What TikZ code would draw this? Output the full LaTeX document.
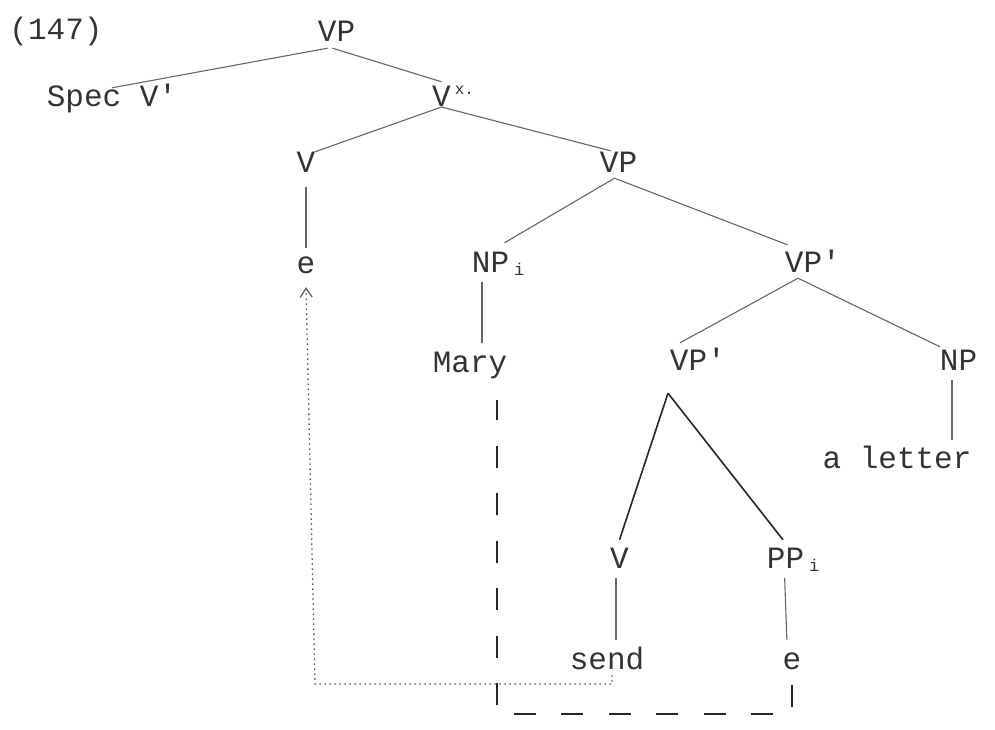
\documentclass[tikz,border=0pt]{standalone}
\usepackage{fontspec}
\newfontfamily\dotmatrix{Liberation Mono}
\usetikzlibrary{arrows.meta}
% small raised / lowered marks that do not widen the label
\newcommand\subidx[1]{\rlap{\hspace{5pt}\raisebox{-3pt}{\fontsize{17}{17}\selectfont #1}}}
\newcommand\supidx[1]{\rlap{\hspace{4pt}\raisebox{12pt}{\fontsize{16}{16}\selectfont #1}}}
\begin{document}
\begin{tikzpicture}[x=1pt,y=-1pt,
  lbl/.style={font=\dotmatrix\fontsize{31}{31}\selectfont, text=black!80,
    anchor=base, inner xsep=2pt, inner ysep=6pt, text height=19pt, text depth=0pt},
  branch/.style={draw=black!60, line width=1.1pt},
  heavy/.style={draw=black!85, line width=1.6pt},
  trace/.style={draw=black!65, line width=1.3pt, dash pattern=on 1.5pt off 3.5pt},
  chain/.style={draw=black!85, line width=1.8pt, dash pattern=on 22pt off 25.5pt},
]
\useasboundingbox (0,0) rectangle (995,730);
\fill[white] (0,0) rectangle (995,730);

% labels
\node[lbl] (ex)   at (56,40)    {(147)};
\node[lbl] (vp0)  at (336.5,42) {VP};
\node[lbl] (spec) at (112,107)  {Spec V'};
\node[lbl] (vbar) at (441.5,107){V\supidx{x.}};
\node[lbl] (v0)   at (306,173)  {V};
\node[lbl] (vp1)  at (618.5,172){VP};
\node[lbl] (e0)   at (306,273)  {e};
\node[lbl] (npi)  at (490.5,272){NP\subidx{i}};
\node[lbl] (vp2)  at (803.5,272){VP\rlap{'}};
\node[lbl] (mary) at (470,372)  {Mary};
\node[lbl] (vp3)  at (688.5,370){VP\rlap{'}};
\node[lbl] (np)   at (958.5,370){NP};
\node[lbl] (obj)  at (897,468)  {a letter};
\node[lbl] (v1)   at (619.5,568){V};
\node[lbl] (ppi)  at (785.5,568){PP\subidx{i}};
\node[lbl] (send) at (607,669)  {send};
\node[lbl] (e1)   at (792,669)  {e};

% branches
\draw[branch] ([xshift=-9pt]vp0.south) -- ([yshift=-6pt]spec.north);
\draw[branch] ([xshift=-4pt]vp0.south) -- (vbar.north);
\draw[branch] (vbar.base) -- ([xshift=9pt,yshift=-4pt]v0.north);
\draw[branch] (vbar.base) -- ([xshift=-8pt,yshift=-4pt]vp1.north);
\draw[branch] ([xshift=-4pt]vp1.south) -- ([xshift=14pt,yshift=4pt]npi.north);
\draw[branch] ([xshift=-4pt]vp1.south) -- ([xshift=-16pt,yshift=2pt]vp2.north);
\draw[branch, shorten <=8pt] (v0.south) -- (e0.north);
\draw[branch, shorten <=4pt, shorten >=4pt] ([xshift=-8.5pt]npi.south) -- ([xshift=12pt]mary.north);
\draw[branch] ([xshift=-5.5pt]vp2.south) -- ([xshift=-8.5pt,yshift=2pt]vp3.north);
\draw[branch] ([xshift=-5.5pt]vp2.south) -- ([xshift=-18.5pt,yshift=-2pt]np.north);
\draw[branch, shorten <=4pt, shorten >=3pt] ([xshift=-6.5pt]np.south) -- ([xshift=55pt]obj.north);
\draw[heavy] ([xshift=-20.5pt,yshift=-17pt]vp3.south) -- ([yshift=3pt]v1.north);
\draw[heavy] ([xshift=-20.5pt,yshift=-17pt]vp3.south) -- ([xshift=-2.5pt,yshift=3pt]ppi.north);
\draw[branch, shorten <=4pt, shorten >=4pt] ([xshift=-3.5pt]v1.south) -- ([xshift=9pt]send.north);
\draw[branch, shorten <=4pt, shorten >=4pt] ([xshift=-1pt]ppi.south) -- ([xshift=-5pt]e1.north);

% movement of the verb (dotted) and of the NP (dashed)
\coordinate (traceturn) at (315,684);
\draw[trace, -{Straight Barb[length=9pt,width=12pt,line width=1.2pt]}]
  ([xshift=5pt]send.south) |- (traceturn) -- ([yshift=-8pt]e0.south);
\coordinate (chainturn) at (497,714);
\draw[chain] ([yshift=-10pt]e1.south) |- (chainturn) -- ([xshift=27pt,yshift=-22pt]mary.south);
\end{tikzpicture}
\end{document}
